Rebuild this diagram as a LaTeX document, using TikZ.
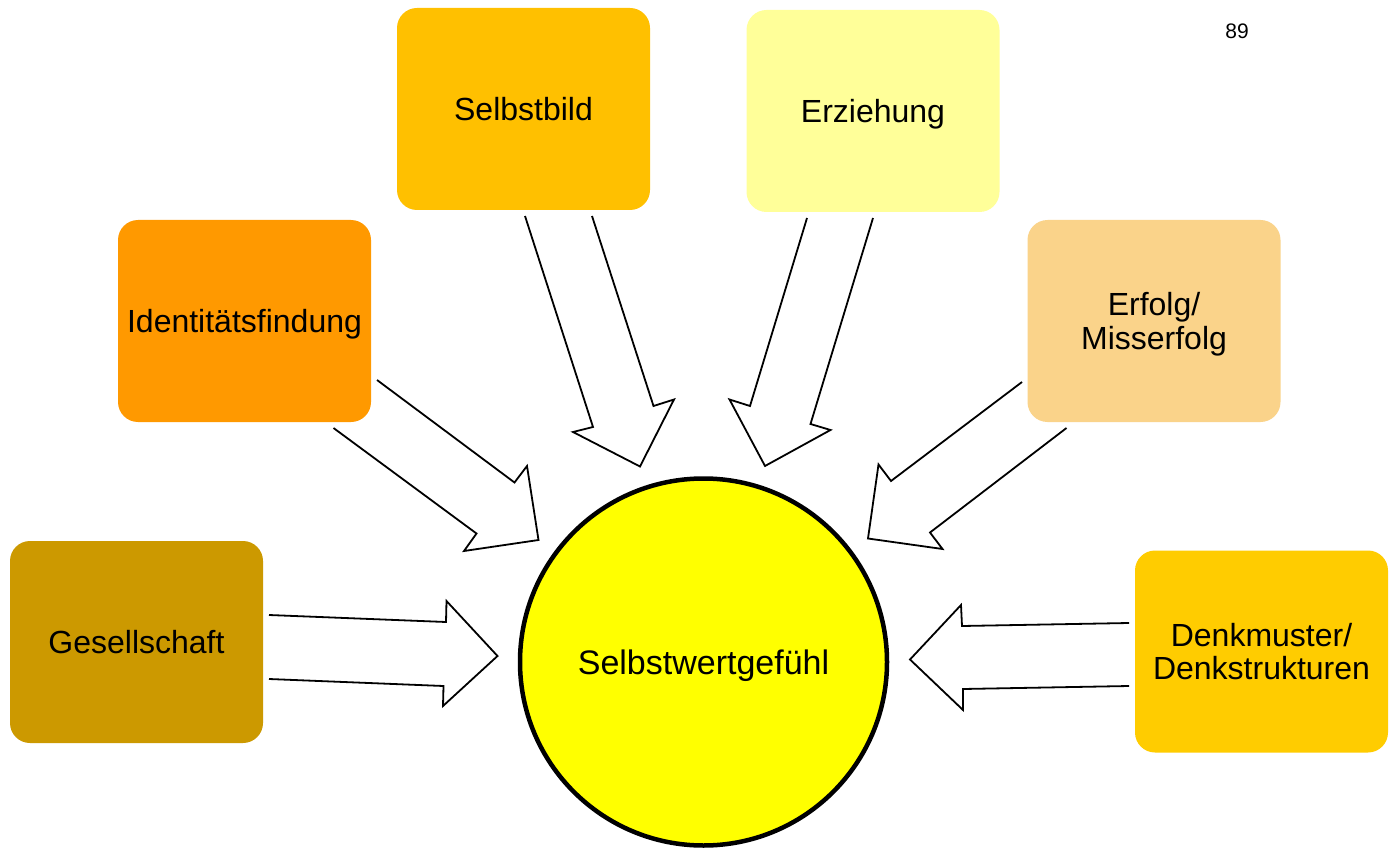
\documentclass[tikz,border=0pt]{standalone}
\usepackage{fontspec}
\setmainfont{Liberation Sans}
\definecolor{cSelbstbild}{HTML}{FFC000}
\definecolor{cErziehung}{HTML}{FFFF99}
\definecolor{cIdent}{HTML}{FF9900}
\definecolor{cErfolg}{HTML}{FAD38A}
\definecolor{cGesell}{HTML}{CC9900}
\definecolor{cDenk}{HTML}{FFCC00}
\definecolor{cCircle}{HTML}{FFFF00}
\tikzset{
  factorbox/.style={rectangle, rounded corners=20pt, draw=none, minimum width=253pt, minimum height=202pt,
    inner sep=0pt, align=center, text depth=0pt, font=\fontsize{32}{33.5}\selectfont},
  blockarrow/.style={draw=black, line width=1.8pt, line join=miter, fill=none},
  centercircle/.style={circle, draw=black, line width=4.5pt, fill=cCircle, minimum size=367pt, inner sep=0pt,
    text depth=0pt, font=\fontsize{34}{36}\selectfont},
  pagenum/.style={inner sep=0pt, text depth=0pt, font=\fontsize{21}{22}\selectfont}
}
\begin{document}
\begin{tikzpicture}[x=1pt, y=-1pt]
\useasboundingbox[fill=white] (0,0) rectangle (1394,850);

% boxes
\node[factorbox, fill=cSelbstbild] (selbstbild) at (523.5,109) {Selbstbild};
\node[factorbox, fill=cErziehung] (erziehung) at (873,111) {Erziehung};
\node[factorbox, fill=cIdent] (ident) at (244.5,321) {Identitätsfindung};
\node[factorbox, fill=cErfolg] (erfolg) at (1154,321) {Erfolg/\\Misserfolg};
\node[factorbox, fill=cGesell] (gesell) at (136.5,642) {Gesellschaft};
\node[factorbox, fill=cDenk] (denk) at (1261.5,651.5) {Denkmuster/\\Denkstrukturen};

% central circle
\node[centercircle] (sw) at (703.5,662) {Selbstwertgefühl};

% page number
\node[pagenum] (page) at (1237,31) {89};

% block arrows (open tails)
\draw[blockarrow] (269,615) -- (446,622) -- (446.5,601) -- (497.5,656) -- (443,706) -- (443.5,686) -- (269,679);
\draw[blockarrow] (525,216) -- (593,427) -- (573,432) -- (640,466.5) -- (674,399.5) -- (653.5,406) -- (592,216);
\draw[blockarrow] (807,218) -- (750,406) -- (729.5,399.5) -- (765,466) -- (830.5,430) -- (810.5,424) -- (873,218);
\draw[blockarrow] (377,380) -- (514.5,482.5) -- (527,466) -- (538.5,540) -- (464,551) -- (476.5,533.5) -- (333.5,428);
\draw[blockarrow] (1022,382) -- (891,481) -- (878.5,464.5) -- (868,538.5) -- (942.5,549) -- (930,532.5) -- (1066.5,428);
\draw[blockarrow] (1129,623) -- (962,626) -- (961,605) -- (910,659.5) -- (963,710) -- (963,689) -- (1129,686);
\end{tikzpicture}
\end{document}
